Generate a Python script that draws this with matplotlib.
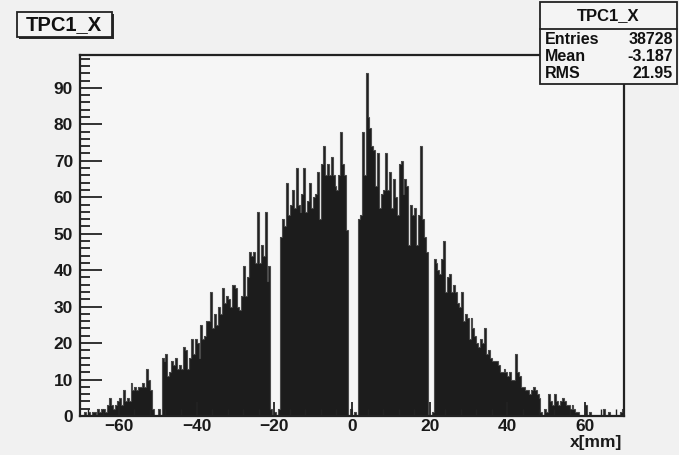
import numpy as np
import matplotlib
matplotlib.use("Agg")
from matplotlib import pyplot as plt
from matplotlib.patches import Rectangle
from matplotlib.ticker import MultipleLocator

# Histogram TPC1_X, 0.5 mm bins from -70 to 70 mm (counts).
x_lo, x_hi, bin_w = -70.0, 70.0, 0.5
counts = [
    # -70 .. -60
    0, 0, 1, 0, 1, 0, 1, 1, 0, 2, 1, 2, 2, 1, 3, 5, 3, 2, 3, 4,
    # -60 .. -50
    5, 3, 7, 4, 5, 4, 9, 7, 8, 7, 8, 8, 9, 8, 13, 10, 7, 2, 0, 0,
    # -50 .. -40
    2, 0, 16, 15, 17, 11, 12, 15, 14, 16, 13, 14, 13, 19, 18, 13, 16, 21, 17, 21,
    # -40 .. -30
    20, 16, 25, 21, 22, 26, 26, 34, 24, 28, 25, 30, 28, 35, 31, 33, 32, 30, 36, 36,
    # -30 .. -20
    35, 30, 29, 33, 41, 33, 38, 45, 44, 45, 42, 56, 42, 47, 44, 56, 37, 41, 2, 0,
    # -20 .. -10
    1, 0, 2, 49, 54, 52, 64, 55, 58, 62, 57, 68, 58, 56, 61, 68, 56, 59, 64, 57,
    # -10 .. 0
    60, 61, 67, 54, 69, 74, 66, 69, 66, 71, 66, 63, 62, 66, 78, 69, 66, 51, 0, 2,
    # 0 .. 10
    0, 1, 0, 54, 55, 78, 66, 94, 82, 79, 74, 73, 63, 72, 57, 61, 62, 72, 62, 67,
    # 10 .. 20
    57, 65, 60, 55, 69, 70, 61, 65, 63, 47, 58, 55, 57, 47, 55, 74, 54, 49, 45, 0,
    # 20 .. 30
    0, 1, 43, 42, 40, 39, 43, 48, 34, 38, 39, 34, 36, 34, 31, 30, 34, 26, 28, 27,
    # 30 .. 40
    21, 27, 24, 22, 20, 19, 21, 20, 24, 17, 18, 16, 15, 15, 15, 14, 12, 12, 13, 12,
    # 40 .. 50
    11, 12, 10, 10, 17, 12, 11, 8, 8, 7, 7, 6, 7, 8, 7, 6, 5, 1, 0, 2,
    # 50 .. 60
    1, 6, 4, 3, 6, 4, 3, 4, 5, 4, 3, 3, 2, 3, 2, 1, 1, 0, 0, 0,
    # 60 .. 70
    3, 0, 1, 0, 0, 0, 0, 0, 0, 2, 0, 0, 1, 0, 0, 0, 0, 0, 1, 2,
]
hist_name = "TPC1_X"
stat_labels = ["Entries", "Mean", "RMS"]
stat_values = ["38728", "-3.187", "21.95"]
x_ticks = [-60, -40, -20, 0, 20, 40, 60]
y_ticks = [0, 10, 20, 30, 40, 50, 60, 70, 80, 90]

edges = np.arange(x_lo, x_hi + bin_w / 2, bin_w)

W, H = 679, 455
fig = plt.figure(figsize=(W / 100, H / 100), dpi=100)
fig.patch.set_facecolor("#f1f1f1")
plt.rcParams["font.family"] = ["Liberation Sans", "DejaVu Sans"]

ax = fig.add_axes([80 / W, 1 - 416 / H, (624 - 80) / W, (416 - 55) / H])
ax.set_facecolor("#f6f6f6")
ax.stairs(counts, edges, fill=True, color="#1c1c1c", lw=0)
ax.stairs(counts, edges, color="#4a4a4a", lw=0.8)
ax.set_xlim(x_lo, x_hi)
ax.set_ylim(0, 99)

ax.set_xticks(x_ticks)
ax.set_yticks(y_ticks)
ax.xaxis.set_minor_locator(MultipleLocator(4))
ax.yaxis.set_minor_locator(MultipleLocator(2))
ax.tick_params(axis="both", which="both", direction="in", color="#222222",
               top=False, right=False)
ax.tick_params(axis="y", which="major", length=16, width=1.3, pad=5)
ax.tick_params(axis="y", which="minor", length=7, width=1.3)
ax.tick_params(axis="x", which="major", length=10, width=1.3, pad=2)
ax.tick_params(axis="x", which="minor", length=5, width=1.0)
for lab in ax.get_xticklabels() + ax.get_yticklabels():
    lab.set_fontsize(12.5)
    lab.set_fontweight("bold")
    lab.set_color("#1a1a1a")
for sp in ax.spines.values():
    sp.set_linewidth(1.6)
    sp.set_color("#222222")

fig.text(622 / W, 1 - 443 / H, "x[mm]", ha="right", va="center",
         fontsize=12.5, fontweight="bold", color="#1a1a1a")

# title box with shadow
fig.patches.append(Rectangle((19 / W, 1 - 39 / H), 95 / W, 25 / H,
                             transform=fig.transFigure, facecolor="#2a2a2a",
                             edgecolor="none"))
fig.patches.append(Rectangle((17 / W, 1 - 37 / H), 95 / W, 25 / H,
                             transform=fig.transFigure, facecolor="#f3f3f3",
                             edgecolor="#222222", lw=1.3))
fig.text(64 / W, 1 - 25 / H, hist_name, ha="center", va="center",
         fontsize=14.5, fontweight="bold", color="#111111")

# stats box
bx0, bx1, by0, by1 = 540, 677, 2, 84
fig.patches.append(Rectangle((bx0 / W, 1 - by1 / H), (bx1 - bx0) / W,
                             (by1 - by0) / H, transform=fig.transFigure,
                             facecolor="#f4f4f4", edgecolor="#222222", lw=1.3))
fig.add_artist(plt.Line2D([bx0 / W, bx1 / W], [1 - 29 / H, 1 - 29 / H],
                          transform=fig.transFigure, color="#222222", lw=1.3))
fig.text((bx0 + bx1) / 2 / W, 1 - 16 / H, hist_name, ha="center", va="center",
         fontsize=12, fontweight="bold", color="#111111")
for i, (lab, val) in enumerate(zip(stat_labels, stat_values)):
    y = 1 - (40 + 16.5 * i) / H
    fig.text(545 / W, y, lab, ha="left", va="center", fontsize=11.5,
             fontweight="bold", color="#111111")
    fig.text(673 / W, y, val, ha="right", va="center", fontsize=11.5,
             fontweight="bold", color="#111111")

fig.savefig("out.png", dpi=100, facecolor=fig.get_facecolor())
